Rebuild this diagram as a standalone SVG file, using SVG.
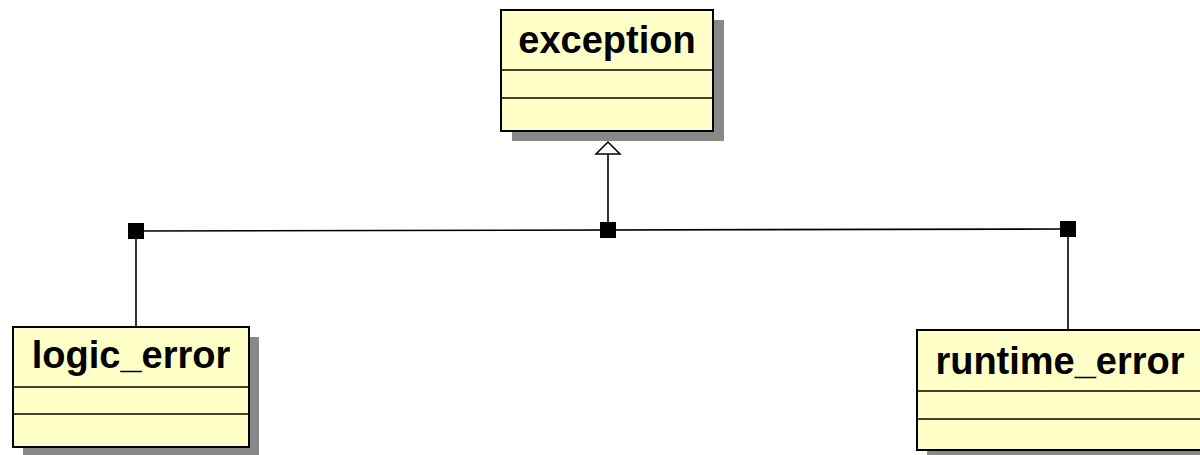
<svg xmlns="http://www.w3.org/2000/svg" width="1200" height="455" viewBox="0 0 1200 455">
<style>
.shadow{fill:#888888;stroke:none}
.box{fill:#ffffc8;stroke:#000;stroke-width:2}
.div{stroke:#000;stroke-width:1.5}
.lbl{font-family:"Liberation Sans",Arial,sans-serif;font-weight:bold;font-size:38px;fill:#000;text-anchor:middle}
.ln{stroke:#000;stroke-width:1.6;fill:none}
.sq{fill:#000}
</style>
<defs>
<marker id="tri" markerWidth="28" markerHeight="16" refX="13" refY="1" orient="auto-start-reverse" markerUnits="userSpaceOnUse" viewBox="0 0 28 16">
</marker>
</defs>
<rect width="1200" height="455" fill="#fff"/>
<g id="exception">
<rect class="shadow" x="512" y="20" width="212" height="121"/>
<rect class="box" x="501" y="10" width="212" height="121"/>
<line class="div" x1="501" y1="70" x2="713" y2="70"/>
<line class="div" x1="501" y1="98" x2="713" y2="98"/>
<text class="lbl" x="607" y="53">exception</text>
</g>
<g id="logic_error">
<rect class="shadow" x="23" y="337" width="236" height="120"/>
<rect class="box" x="13" y="327" width="236" height="120"/>
<line class="div" x1="13" y1="387" x2="249" y2="387"/>
<line class="div" x1="13" y1="414" x2="249" y2="414"/>
<text class="lbl" x="131" y="368">logic_error</text>
</g>
<g id="runtime_error">
<rect class="shadow" x="927" y="340" width="290" height="120"/>
<rect class="box" x="917" y="330" width="290" height="120"/>
<line class="div" x1="917" y1="391" x2="1207" y2="391"/>
<line class="div" x1="917" y1="419" x2="1207" y2="419"/>
<text class="lbl" x="1060" y="374">runtime_error</text>
</g>
<g id="connectors">
<line class="ln" x1="136" y1="231" x2="1068" y2="229"/>
<line class="ln" x1="136" y1="231" x2="136" y2="327"/>
<line class="ln" x1="1068" y1="229" x2="1068" y2="330"/>
<line class="ln" x1="608" y1="230" x2="608" y2="154"/>
<polygon points="608,142 596,154 620,154" fill="#fff" stroke="#000" stroke-width="1.5"/>
<rect class="sq" x="128" y="223" width="16" height="16"/>
<rect class="sq" x="600" y="222" width="16" height="16"/>
<rect class="sq" x="1060" y="221" width="16" height="16"/>
</g>
</svg>
